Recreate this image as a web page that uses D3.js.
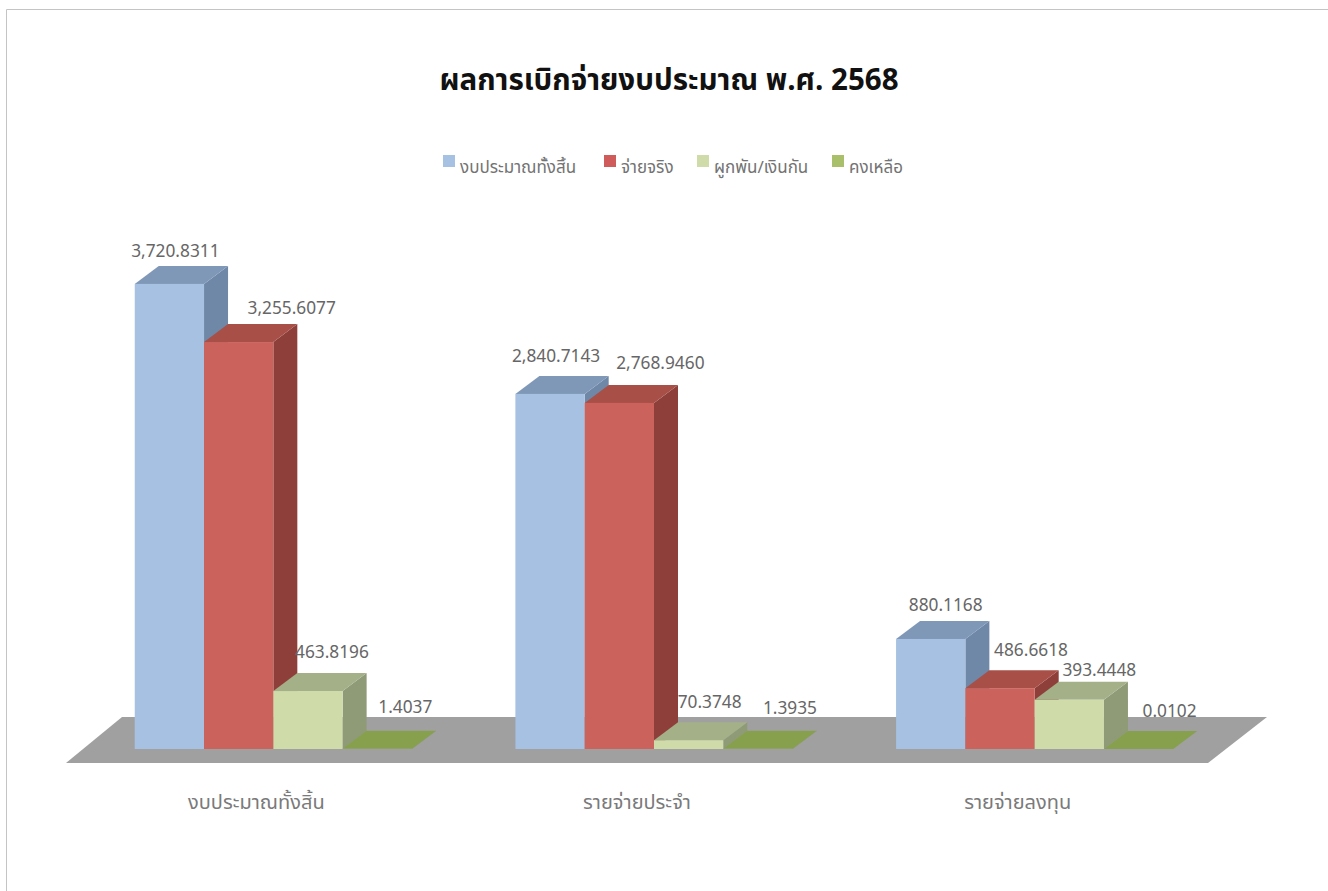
<!DOCTYPE html>
<html>
<head>
<meta charset="utf-8">
<script src="https://d3js.org/d3.v7.min.js"></script>
<style>
  html, body { margin: 0; padding: 0; background: #fff; }
  svg { display: block; }
  text { font-family: "Noto Sans Thai", "Loma", "Garuda", "Tahoma", "Noto Sans", "DejaVu Sans", sans-serif; }
  .axis text { font-size: 20px; fill: #7a7a7a; }
  .label { font-size: 17.3px; fill: #666; }
  .legend text { font-size: 17px; fill: #737373; }
</style>
</head>
<body>
<div id="chartBox"></div>
<script>
var categories = ["งบประมาณทั้งสิ้น", "รายจ่ายประจำ", "รายจ่ายลงทุน"];
var seriesNames = ["งบประมาณทั้งสิ้น", "จ่ายจริง", "ผูกพัน/เงินกัน", "คงเหลือ"];
var budgetTotal = [3720.8311, 2840.7143, 880.1168];
var paidActual = [3255.6077, 2768.9460, 486.6618];
var committed = [463.8196, 70.3748, 393.4448];
var remaining = [1.4037, 1.3935, 0.0102];
var seriesValues = [budgetTotal, paidActual, committed, remaining];

var outerWidth = 1328,
    outerHeight = 891,
    floorLeft = 66,
    floorRight = 1208,
    floorFront = 763,
    floorDx = 59,
    floorDy = 46,
    baseY = 749,
    depthX = 24,
    depthY = 18,
    barWidth = 69.3;

// front, top and side shades per series
var frontColors = ["#a6c1e1", "#cb625c", "#cfdba9", "#9bb35c"];
var topColors = ["#7f98b8", "#a84f48", "#a4b088", "#86a04d"];
var sideColors = ["#6f88a8", "#8e3f3a", "#8f9b76", "#7a9244"];
var legendColors = ["#a6c1e1", "#cf5b5b", "#cfdba9", "#a9bf6a"];

// data labels in the picture sit by hand, offset from the bar's front top centre
var labelNudge = [
  [[6, -27], [53, -28], [24, -33], [28, -36]],
  [[6, -32], [41, -34], [21, -32], [32, -35]],
  [[15, -28], [31, -32], [30, -24], [31, -32]]
];

var svg = d3.select("#chartBox").append("svg")
  .attr("width", outerWidth)
  .attr("height", outerHeight);

// page frame, top and left only
svg.append("path")
  .attr("d", d3.line()([[6.5, outerHeight], [6.5, 9.5], [outerWidth, 9.5]]))
  .attr("fill", "none")
  .attr("stroke", "#c4c4c4");

svg.append("text")
  .attr("x", 669)
  .attr("y", 90)
  .attr("text-anchor", "middle")
  .style("font-size", "29.5px")
  .style("font-weight", "bold")
  .style("fill", "#111")
  .text("ผลการเบิกจ่ายงบประมาณ พ.ศ. 2568");

var x0 = d3.scaleBand().domain(d3.range(categories.length)).range([floorLeft, floorRight]);
var x1 = d3.scaleBand().domain(d3.range(seriesNames.length)).range([0, barWidth * seriesNames.length]);
var y = d3.scaleLinear().domain([0, 4000]).range([baseY, baseY - 500]);
var groupShift = (x0.bandwidth() - x1.range()[1]) / 2 + 17;

// floor
svg.append("polygon")
  .attr("points", [
    [floorLeft, floorFront],
    [floorRight, floorFront],
    [floorRight + floorDx, floorFront - floorDy],
    [floorLeft + 56, floorFront - floorDy]
  ].join(" "))
  .attr("fill", "#a0a0a0");

var rows = [];
categories.forEach(function(c, i) {
  seriesValues.forEach(function(values, s) {
    rows.push({ cat: i, series: s, value: values[i] });
  });
});

var bars = svg.append("g").attr("class", "bars")
  .selectAll("g")
  .data(rows)
  .enter().append("g");

function left(d) { return x0(d.cat) + groupShift + x1(d.series); }

bars.append("polygon")
  .attr("fill", function(d) { return sideColors[d.series]; })
  .attr("points", function(d) {
    var r = left(d) + x1.bandwidth();
    return [[r, baseY], [r + depthX, baseY - depthY], [r + depthX, y(d.value) - depthY], [r, y(d.value)]].join(" ");
  });

bars.append("polygon")
  .attr("fill", function(d) { return topColors[d.series]; })
  .attr("points", function(d) {
    var l = left(d), r = l + x1.bandwidth(), t = y(d.value);
    return [[l, t], [r, t], [r + depthX, t - depthY], [l + depthX, t - depthY]].join(" ");
  });

bars.append("rect")
  .attr("fill", function(d) { return frontColors[d.series]; })
  .attr("x", left)
  .attr("y", function(d) { return y(d.value); })
  .attr("width", x1.bandwidth())
  .attr("height", function(d) { return baseY - y(d.value); });

svg.append("g").selectAll("text")
  .data(rows)
  .enter().append("text")
  .attr("class", "label")
  .attr("text-anchor", "middle")
  .attr("x", function(d) { return left(d) + x1.bandwidth() / 2 + labelNudge[d.cat][d.series][0]; })
  .attr("y", function(d) { return y(d.value) + labelNudge[d.cat][d.series][1]; })
  .text(function(d) { return d3.format(",.4f")(d.value); });

// category axis
var xAxis = d3.axisBottom(x0)
  .tickSize(0)
  .tickPadding(32)
  .tickFormat(function(i) { return categories[i]; });

var axisG = svg.append("g")
  .attr("class", "axis")
  .attr("transform", "translate(0," + floorFront + ")")
  .call(xAxis);
axisG.select(".domain").remove();

// legend
var legendX = [443, 604, 697, 832];
var legend = svg.append("g").attr("class", "legend")
  .selectAll("g")
  .data(seriesNames)
  .enter().append("g")
  .attr("transform", function(d, i) { return "translate(" + legendX[i] + ",155)"; });

legend.append("rect")
  .attr("width", 12)
  .attr("height", 12)
  .attr("fill", function(d, i) { return legendColors[i]; });

legend.append("text")
  .attr("x", 17)
  .attr("y", 18)
  .text(function(d) { return d; });
</script>
</body>
</html>
